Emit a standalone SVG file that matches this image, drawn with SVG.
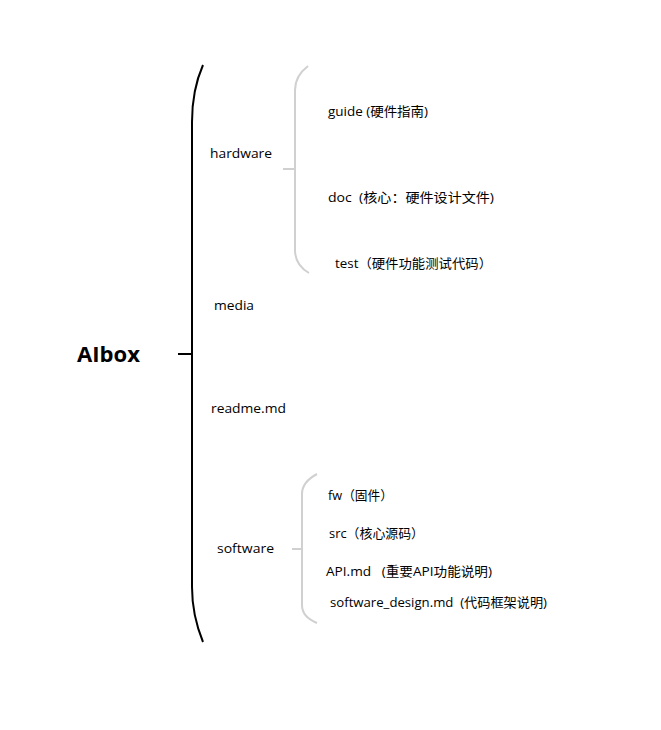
<svg xmlns="http://www.w3.org/2000/svg" width="661" height="730" viewBox="0 0 661 730">
<style>
.t{font-family:"Open Sans","Noto Sans CJK SC",sans-serif;font-size:13px;fill:#000;white-space:pre}
.root{font-family:"Open Sans","Noto Sans CJK SC",sans-serif;font-size:21px;font-weight:bold;fill:#000}
.main{fill:none;stroke:#000;stroke-width:2}
.sub{fill:none;stroke:#d0d0d0;stroke-width:2}
</style>
<rect width="661" height="730" fill="#fff"/>
<g id="connectors">
<path class="main" d="M203,65 Q192,90 192,122 L192,587 Q192,615 203,642"/>
<path class="main" d="M178,354 H192"/>
<path class="sub" d="M308,66 Q295,76 295,90 L295,250 Q295,265 309,273"/>
<path class="sub" d="M283,169 H295"/>
<path class="sub" d="M317,474 Q302,482 302,494 L302,605 Q302,617 317,623"/>
<path class="sub" d="M292,549 H302"/>
</g>
<g id="aibox"><text class="root" x="77" y="362" textLength="63" lengthAdjust="spacingAndGlyphs">AIbox</text></g>
<g id="hardware"><text class="t" x="210" y="158" textLength="62" lengthAdjust="spacingAndGlyphs">hardware</text></g>
<g id="guide"><text class="t" x="328" y="116" textLength="100" lengthAdjust="spacingAndGlyphs">guide (硬件指南)</text></g>
<g id="doc"><text class="t" x="328" y="202" textLength="166" lengthAdjust="spacingAndGlyphs" xml:space="preserve">doc  (核心：硬件设计文件)</text></g>
<g id="test"><text class="t" x="335" y="268" textLength="157" lengthAdjust="spacingAndGlyphs">test（硬件功能测试代码）</text></g>
<g id="media"><text class="t" x="214" y="310" textLength="40" lengthAdjust="spacingAndGlyphs">media</text></g>
<g id="readme"><text class="t" x="211" y="413" textLength="75" lengthAdjust="spacingAndGlyphs">readme.md</text></g>
<g id="software"><text class="t" x="217" y="553" textLength="57" lengthAdjust="spacingAndGlyphs">software</text></g>
<g id="fw"><text class="t" x="328" y="500" textLength="65" lengthAdjust="spacingAndGlyphs">fw（固件）</text></g>
<g id="src"><text class="t" x="329" y="538" textLength="95" lengthAdjust="spacingAndGlyphs">src（核心源码）</text></g>
<g id="api"><text class="t" x="326" y="576" textLength="166" lengthAdjust="spacingAndGlyphs" xml:space="preserve">API.md   (重要API功能说明)</text></g>
<g id="swdesign"><text class="t" x="330" y="607" textLength="217" lengthAdjust="spacingAndGlyphs" xml:space="preserve">software_design.md  (代码框架说明)</text></g>
</svg>
